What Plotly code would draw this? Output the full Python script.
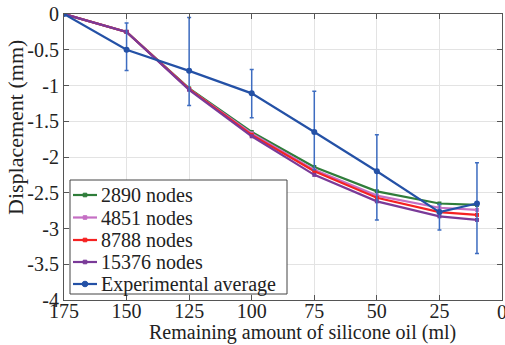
import plotly.graph_objects as go

# Remaining silicone oil volume (ml) at each measurement step
oil_ml = [175, 150, 125, 100, 75, 50, 25, 10]

# Simulated displacement (mm) for each mesh resolution
disp_2890 = [0, -0.25, -1.04, -1.65, -2.14, -2.48, -2.65, -2.67]
disp_4851 = [0, -0.25, -1.05, -1.67, -2.18, -2.54, -2.71, -2.74]
disp_8788 = [0, -0.25, -1.05, -1.69, -2.20, -2.57, -2.77, -2.81]
disp_15376 = [0, -0.25, -1.06, -1.71, -2.25, -2.62, -2.83, -2.88]

# Experimental mean displacement and its spread (max above / min below)
exp_mean = [0, -0.50, -0.795, -1.11, -1.65, -2.20, -2.77, -2.65]
exp_upper = [0, -0.126, -0.05, -0.775, -1.08, -1.69, -2.66, -2.08]
exp_lower = [0, -0.79, -1.28, -1.45, -2.18, -2.88, -3.02, -3.35]

y_ticks = [0, -0.5, -1, -1.5, -2, -2.5, -3, -3.5, -4]
y_tick_text = ["0", "-0.5", "-1", "-1.5", "-2", "-2.5", "-3", "-3.5", "-4"]
x_ticks = [175, 150, 125, 100, 75, 50, 25, 0]
x_tick_text = ["175", "150", "125", "100", "75", "50", "25", ""]

series_names = ["2890 nodes", "4851 nodes", "8788 nodes", "15376 nodes", "Experimental average"]
series_colors = ["#2f7d3a", "#c56fc4", "#f52222", "#7a3a98", "#2451a6"]
sim_values = [disp_2890, disp_4851, disp_8788, disp_15376]

# page-pixel geometry of the plotting area, used to place legend and titles
PL, PR, PT, PB = 64, 502, 14, 300


def fx(px):
    return (px - PL) / (PR - PL)


def fy(py):
    return (PB - py) / (PB - PT)


fig = go.Figure()
for name, ys, color in zip(series_names[:4], sim_values, series_colors[:4]):
    fig.add_trace(go.Scatter(
        x=oil_ml, y=ys, name=name, mode="lines+markers", showlegend=False,
        line=dict(color=color, width=2.2),
        marker=dict(symbol="square", size=4, color=color),
    ))

err_plus = [u - m for u, m in zip(exp_upper, exp_mean)]
err_minus = [m - l for m, l in zip(exp_mean, exp_lower)]
fig.add_trace(go.Scatter(
    x=oil_ml, y=exp_mean, name=series_names[4], mode="lines+markers", showlegend=False,
    line=dict(color=series_colors[4], width=2.2),
    marker=dict(symbol="circle", size=6, color=series_colors[4]),
    error_y=dict(type="data", symmetric=False, array=err_plus,
                 arrayminus=err_minus, color="#3d6cc0", thickness=1.5, width=2),
))

serif = "Liberation Serif"
tick_font = dict(family=serif, size=20, color="#222")

# boxed key in the lower-left corner of the axes
shapes = [dict(type="rect", xref="paper", yref="paper",
               x0=fx(70), x1=fx(287), y0=fy(294), y1=fy(180),
               fillcolor="white", line=dict(color="#444", width=1))]
annotations = []
row_y = [195, 217.5, 240, 262, 284]
for i, (name, color) in enumerate(zip(series_names, series_colors)):
    yy = fy(row_y[i])
    shapes.append(dict(type="line", xref="paper", yref="paper",
                       x0=fx(73), x1=fx(97), y0=yy, y1=yy,
                       line=dict(color=color, width=2.2)))
    r = 2.8 if i == 4 else 1.8
    shapes.append(dict(type="circle" if i == 4 else "rect", xref="paper", yref="paper",
                       x0=fx(85 - r), x1=fx(85 + r), y0=fy(row_y[i] + r), y1=fy(row_y[i] - r),
                       fillcolor=color, line=dict(color=color, width=1)))
    annotations.append(dict(text=name, x=fx(99), y=yy, xref="paper", yref="paper",
                            xanchor="left", yanchor="middle", showarrow=False,
                            font=dict(family=serif, size=20, color="#222")))

annotations += [
    # right-most x tick label, allowed to run off the page edge
    dict(text="0", x=0, xref="x", y=fy(312), yref="paper", yanchor="middle",
         xanchor="center", showarrow=False, font=tick_font),
    dict(text="Remaining amount of silicone oil (ml)", x=fx(302), xref="paper",
         y=fy(332), yref="paper", xanchor="center", yanchor="middle",
         showarrow=False, font=dict(family=serif, size=20, color="#222")),
    dict(text="Displacement (mm)", x=fx(15), xref="paper", y=fy(128), yref="paper",
         textangle=-90, xanchor="center", yanchor="middle", showarrow=False,
         font=dict(family=serif, size=22, color="#222")),
]

fig.update_layout(
    width=505, height=345,
    margin=dict(l=PL, r=505 - PR, t=PT, b=345 - PB),
    paper_bgcolor="white", plot_bgcolor="white",
    font=dict(family=serif, size=20, color="#222"),
    showlegend=False,
    xaxis=dict(
        range=[175, 0], tickvals=x_ticks, ticktext=x_tick_text,
        showgrid=True, gridcolor="#e3e3e3", gridwidth=1,
        showline=True, linecolor="#555", linewidth=1, mirror="ticks",
        ticks="inside", ticklen=5, tickcolor="#555",
        zeroline=False, tickfont=tick_font, ticklabelstandoff=-7,
    ),
    yaxis=dict(
        range=[-4, 0], tickvals=y_ticks, ticktext=y_tick_text,
        showgrid=True, gridcolor="#e3e3e3", gridwidth=1,
        showline=True, linecolor="#555", linewidth=1, mirror="ticks",
        ticks="inside", ticklen=5, tickcolor="#555",
        zeroline=False, tickfont=tick_font,
    ),
    shapes=shapes,
    annotations=annotations,
)

fig.write_html("out.html")
